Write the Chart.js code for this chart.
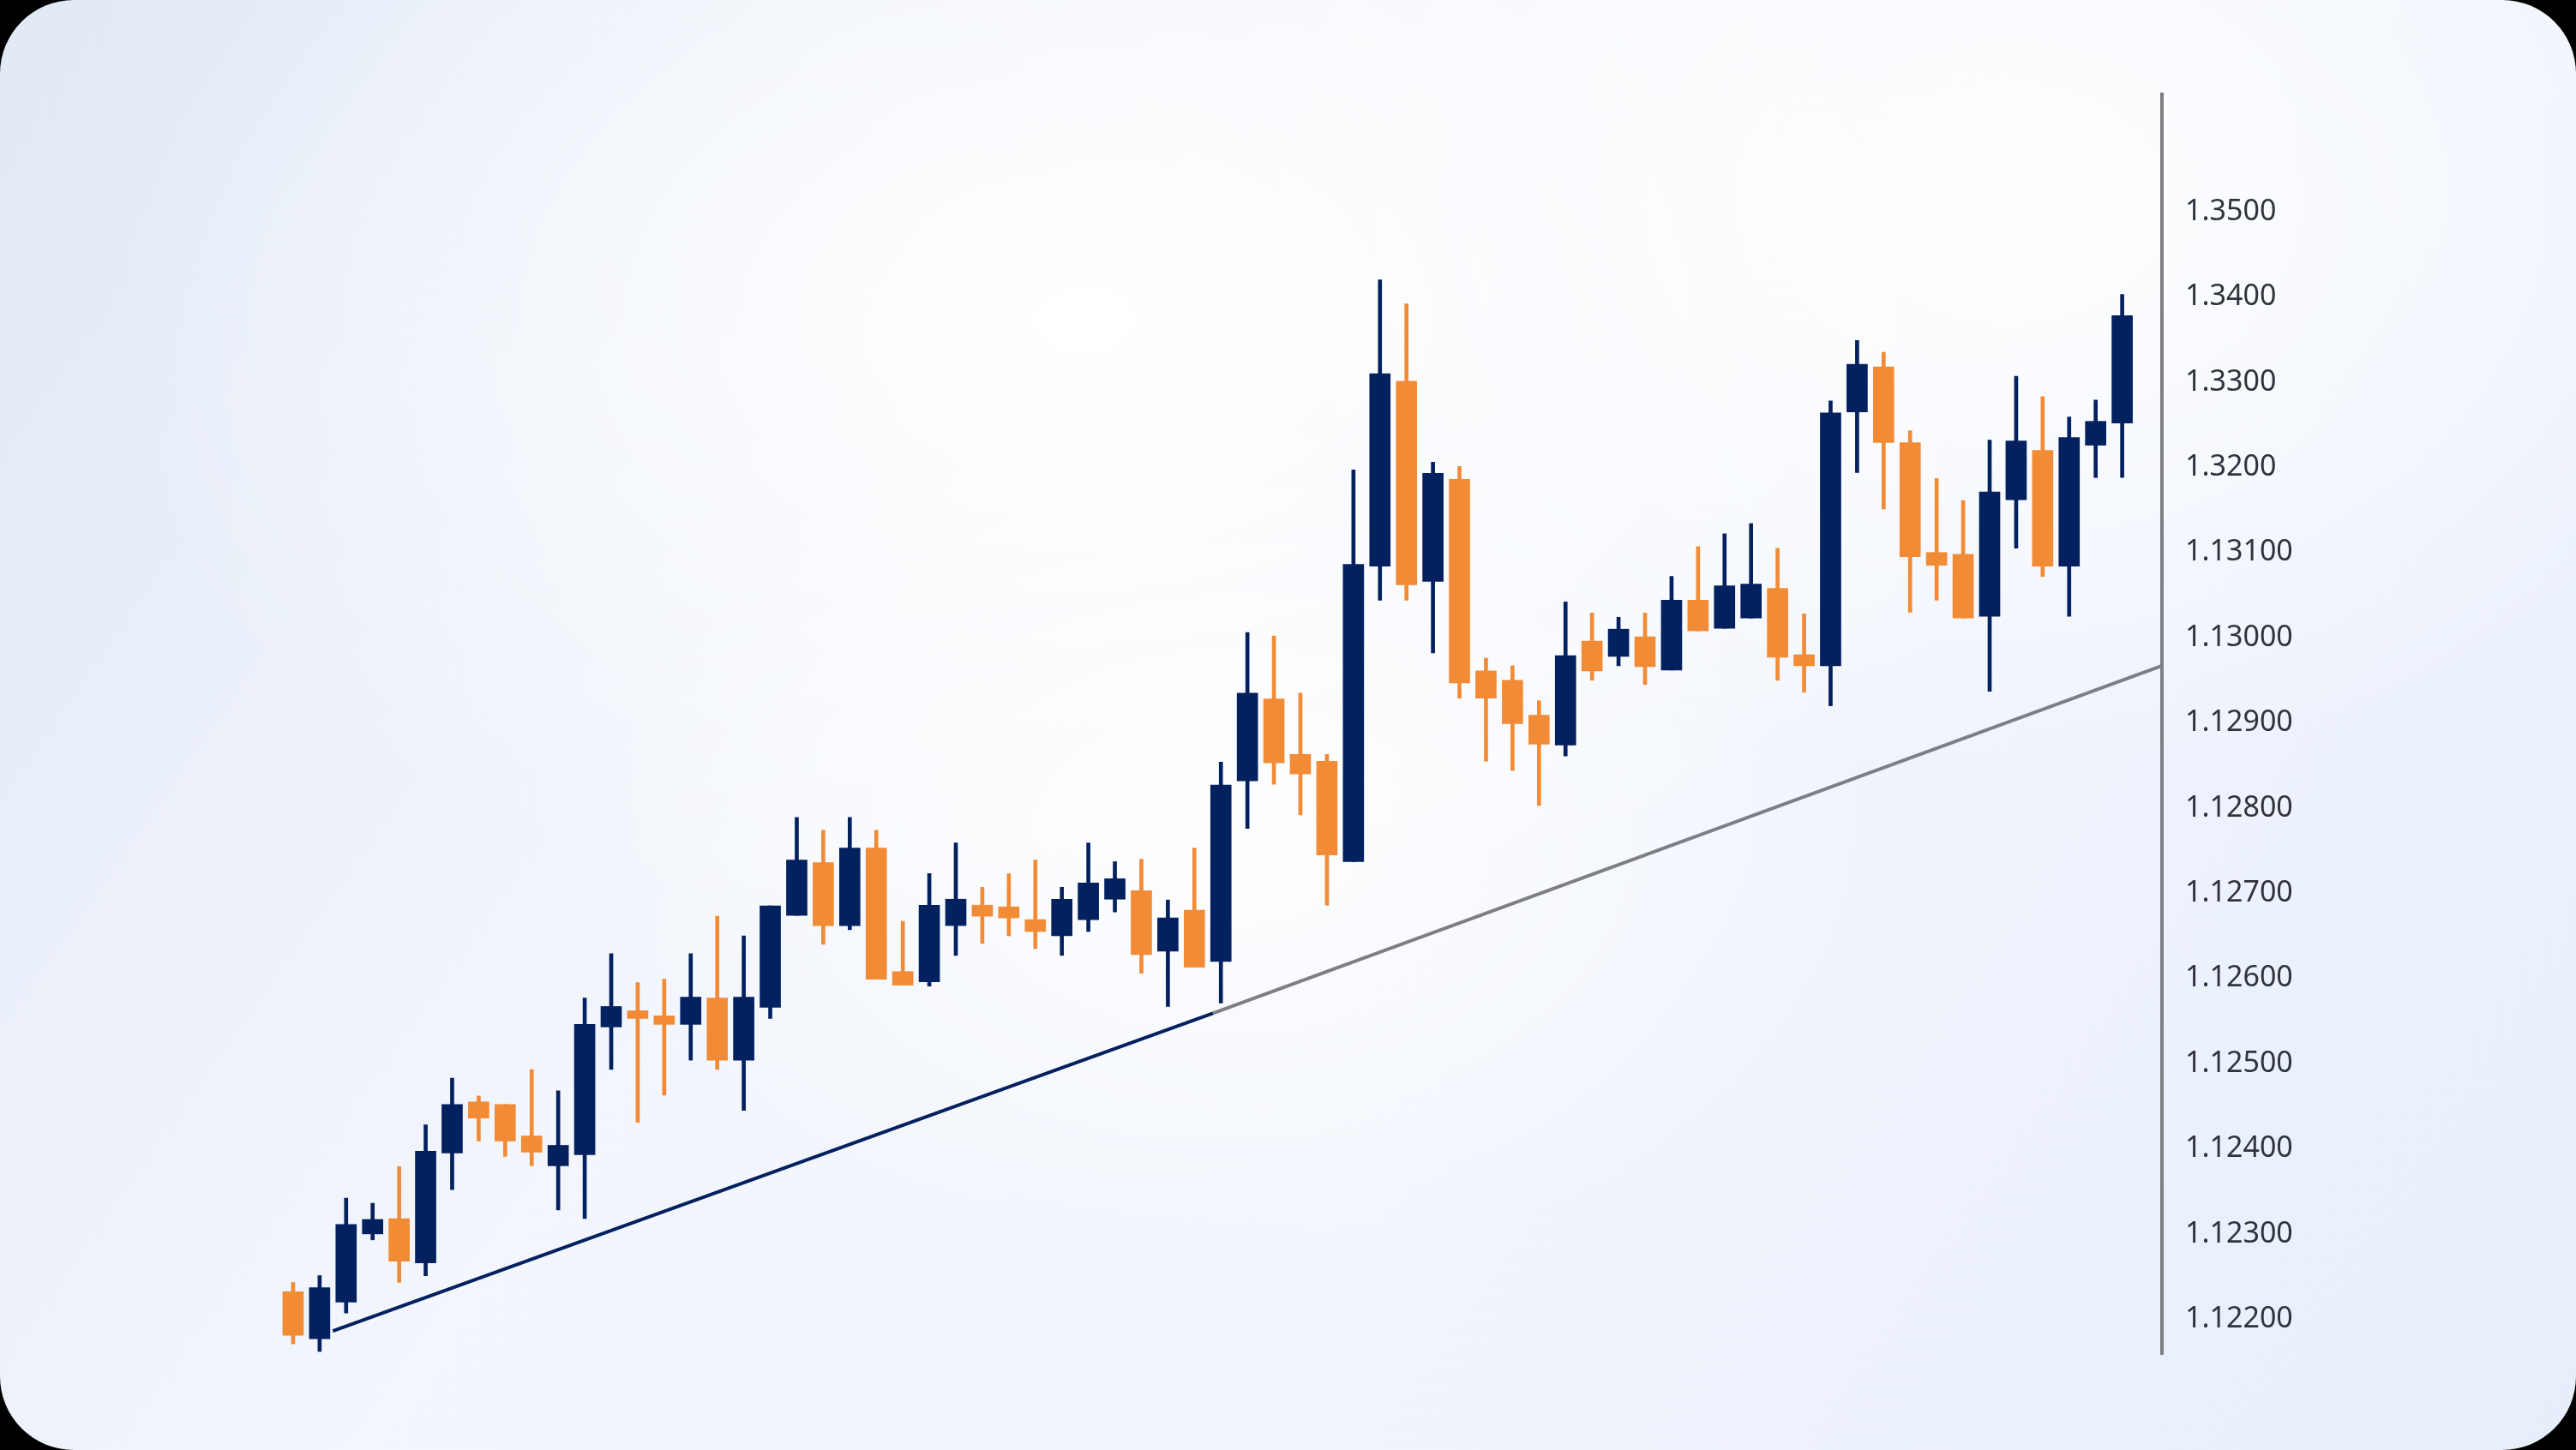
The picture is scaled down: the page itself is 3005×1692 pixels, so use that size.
<!DOCTYPE html>
<html>
<head>
<meta charset="utf-8">
<script src="https://cdn.jsdelivr.net/npm/chart.js@4.4.1/dist/chart.umd.min.js"></script>
<style>
  html, body { margin: 0; padding: 0; background: #000; overflow: hidden; }
  #card {
    position: absolute; left: 0; top: 0; width: 3005px; height: 1692px;
    border-radius: 86px; overflow: hidden;
    background:
      radial-gradient(ellipse 38% 45% at 42% 22%, rgba(255,255,255,1), rgba(255,255,255,0)),
      radial-gradient(ellipse 30% 40% at 78% 14%, rgba(255,255,255,0.95), rgba(255,255,255,0)),
      radial-gradient(ellipse 25% 30% at 48% 58%, rgba(255,255,255,0.9), rgba(255,255,255,0)),
      linear-gradient(125deg, #e1e9f6 0%, #f3f6fc 38%, #f1f5fd 62%, #e7eefb 100%);
  }
  canvas { position: absolute; left: 0; top: 0; }
</style>
</head>
<body>
<div id="card"><canvas id="chart" width="3005" height="1692"></canvas></div>
<script>
// candle values, one entry per session, left to right
const candleOpen  = [1.12232,1.12177,1.12220,1.12300,1.12318,1.12266,1.12395,1.12455,1.12452,1.12415,
                     1.12380,1.12393,1.12543,1.12562,1.12556,1.12546,1.12577,1.12504,1.12566,1.12674,
                     1.12736,1.12662,1.12753,1.12608,1.12596,1.12662,1.12686,1.12684,1.12669,1.12650,
                     1.12669,1.12693,1.12703,1.12632,1.12680,1.12620,1.12832,1.12928,1.12863,1.12855,
                     1.12737,1.13084,1.13301,1.13066,1.13186,1.12961,1.12950,1.12909,1.12874,1.12996,
                     1.12978,1.13001,1.12962,1.13044,1.13011,1.13023,1.13058,1.12980,1.12967,1.13265,
                     1.13318,1.13229,1.13100,1.13098,1.13025,1.13162,1.13220,1.13084,1.13226,1.13252];
const candleClose = [1.12181,1.12237,1.12311,1.12317,1.12268,1.12397,1.12452,1.12436,1.12409,1.12396,
                     1.12404,1.12546,1.12567,1.12553,1.12546,1.12578,1.12504,1.12578,1.12685,1.12739,
                     1.12662,1.12753,1.12599,1.12592,1.12686,1.12693,1.12673,1.12671,1.12655,1.12693,
                     1.12712,1.12717,1.12628,1.12671,1.12613,1.12827,1.12935,1.12853,1.12840,1.12745,
                     1.13086,1.13310,1.13062,1.13193,1.12947,1.12929,1.12899,1.12875,1.12979,1.12961,
                     1.13010,1.12966,1.13044,1.13008,1.13061,1.13063,1.12977,1.12967,1.13264,1.13321,
                     1.13229,1.13095,1.13085,1.13023,1.13171,1.13231,1.13084,1.13235,1.13254,1.13378];
const candleHigh  = [1.12243,1.12251,1.12342,1.12336,1.12379,1.12428,1.12483,1.12462,1.12452,1.12493,
                     1.12468,1.12577,1.12629,1.12595,1.12599,1.12629,1.12673,1.12650,1.12685,1.12789,
                     1.12774,1.12789,1.12774,1.12667,1.12723,1.12759,1.12707,1.12723,1.12739,1.12707,
                     1.12759,1.12737,1.12740,1.12692,1.12753,1.12854,1.13006,1.13002,1.12935,1.12863,
                     1.13197,1.13420,1.13392,1.13206,1.13201,1.12976,1.12967,1.12926,1.13042,1.13029,
                     1.13024,1.13029,1.13072,1.13107,1.13122,1.13134,1.13105,1.13028,1.13278,1.13349,
                     1.13335,1.13243,1.13187,1.13161,1.13232,1.13307,1.13283,1.13259,1.13279,1.13403];
const candleLow   = [1.12171,1.12162,1.12207,1.12293,1.12243,1.12251,1.12352,1.12409,1.12391,1.12380,
                     1.12328,1.12318,1.12493,1.12431,1.12463,1.12504,1.12493,1.12445,1.12553,1.12674,
                     1.12640,1.12657,1.12599,1.12592,1.12591,1.12627,1.12641,1.12650,1.12635,1.12627,
                     1.12655,1.12678,1.12606,1.12567,1.12613,1.12571,1.12776,1.12828,1.12792,1.12686,
                     1.12737,1.13044,1.13044,1.12982,1.12929,1.12855,1.12844,1.12803,1.12861,1.12950,
                     1.12967,1.12945,1.12962,1.13008,1.13011,1.13023,1.12950,1.12936,1.12920,1.13194,
                     1.13151,1.13030,1.13044,1.13023,1.12937,1.13105,1.13072,1.13025,1.13188,1.13188];

// price axis: tick values and the labels printed beside them
const tickValues = [1.122,1.123,1.124,1.125,1.126,1.127,1.128,1.129,1.130,1.131,1.132,1.133,1.134,1.135];
const tickLabels = ['1.12200','1.12300','1.12400','1.12500','1.12600','1.12700','1.12800',
                    '1.12900','1.13000','1.13100','1.3200','1.3300','1.3400','1.3500'];

// support trend line (session index, price)
const trendIndex = [1.5, 34.7, 70.5];
const trendPrice = [1.12186, 1.12559, 1.12967];

const NAVY = '#03205f';
const ORANGE = '#f28b36';

const colors = candleOpen.map((o, i) => candleClose[i] >= o ? NAVY : ORANGE);
const bodies = candleOpen.map((o, i) => ({ x: i, y: [o, candleClose[i]] }));
const wicks = candleLow.map((l, i) => ({ x: i, y: [l, candleHigh[i]] }));

new Chart(document.getElementById('chart'), {
  type: 'bar',
  data: {
    datasets: [
      {
        type: 'line',
        data: [{ x: trendIndex[0], y: trendPrice[0] }, { x: trendIndex[1], y: trendPrice[1] }],
        borderColor: NAVY, borderWidth: 4, pointRadius: 0, order: 3
      },
      {
        type: 'line',
        data: [{ x: trendIndex[1], y: trendPrice[1] }, { x: trendIndex[2], y: trendPrice[2] }],
        borderColor: '#7d7f84', borderWidth: 4, pointRadius: 0, order: 3
      },
      { data: wicks, backgroundColor: colors, barThickness: 4, grouped: false, order: 2 },
      { data: bodies, backgroundColor: colors, barThickness: 24, grouped: false, order: 1 }
    ]
  },
  options: {
    responsive: false,
    animation: false,
    devicePixelRatio: 1,
    layout: { padding: { left: 311, top: 110, bottom: 112, right: 0 } },
    plugins: { legend: { display: false }, tooltip: { enabled: false } },
    scales: {
      // bar charts turn offset on by default, which would squeeze a linear x axis
      x: { type: 'linear', min: -1, max: 70.5, offset: false, display: false },
      y: {
        type: 'linear',
        position: 'right',
        min: 1.12159,
        max: 1.13638,
        grid: { display: false, drawTicks: false },
        border: { display: true, color: '#7d7f84', width: 4 },
        afterBuildTicks: (axis) => { axis.ticks = tickValues.map(v => ({ value: v })); },
        afterFit: (axis) => { axis.width = 483; },
        ticks: {
          padding: 27,
          color: '#2f343c',
          font: { family: 'Noto Sans', size: 34 },
          callback: (v, i) => tickLabels[i]
        }
      }
    }
  }
});
</script>
</body>
</html>
